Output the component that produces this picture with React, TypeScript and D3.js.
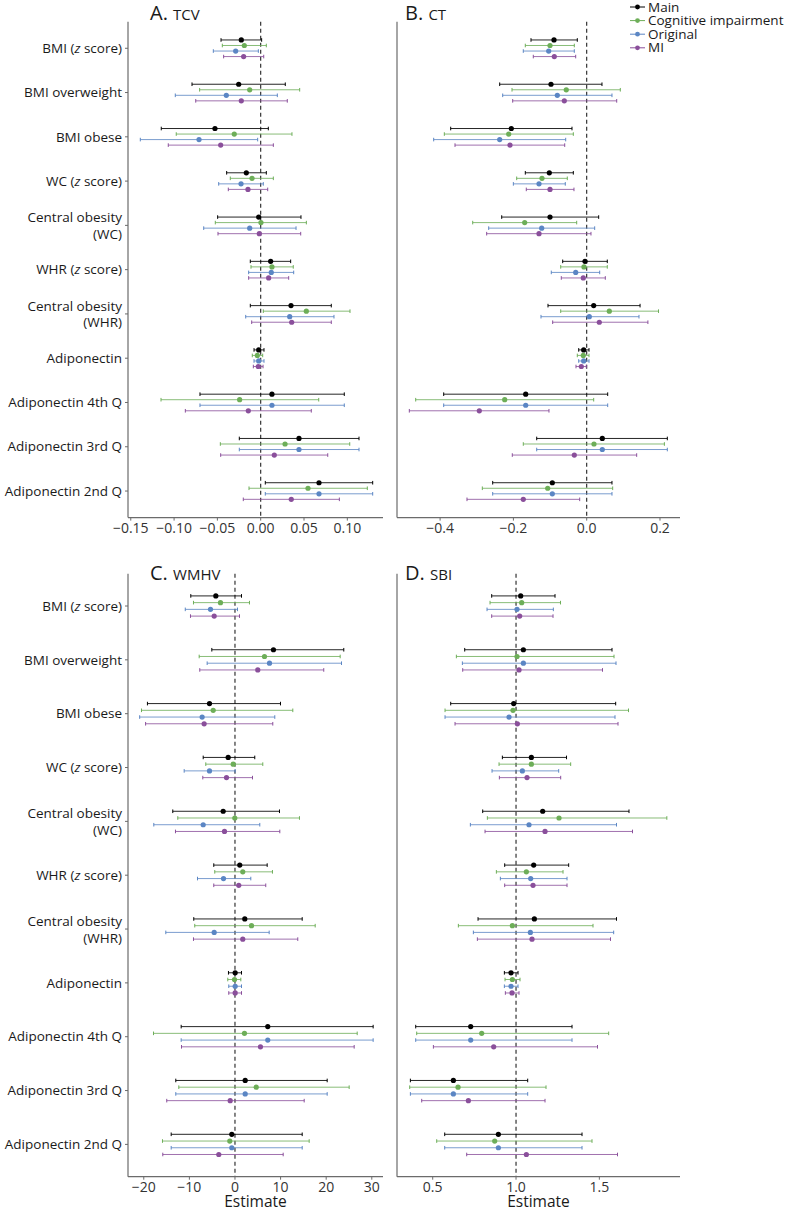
import React from "react";
import * as d3 from "d3";

const categories = [
  "BMI (z score)", "BMI overweight", "BMI obese", "WC (z score)", "Central obesity (WC)",
  "WHR (z score)", "Central obesity (WHR)", "Adiponectin", "Adiponectin 4th Q",
  "Adiponectin 3rd Q", "Adiponectin 2nd Q",
];

const seriesNames = ["Main", "Cognitive impairment", "Original", "MI"];
const seriesColors = ["#000000", "#6DAE58", "#5B86C4", "#8A4F9B"];

// [estimate, lower, upper]
const tcvMain = [[-0.0224,-0.0458,0.0011],[-0.0254,-0.0793,0.0284],[-0.0528,-0.1148,0.0088],[-0.0166,-0.0393,0.0065],[-0.0023,-0.0497,0.0465],[0.0115,-0.012,0.0346],[0.035,-0.012,0.0815],[-0.0023,-0.0077,0.0038],[0.013,-0.0701,0.0965],[0.0442,-0.0247,0.1135],[0.0673,0.0053,0.1293]];
const tcvCog = [[-0.0189,-0.0443,0.0065],[-0.0127,-0.0705,0.045],[-0.0305,-0.0975,0.0361],[-0.01,-0.0351,0.0146],[0.0003,-0.0524,0.0527],[0.013,-0.0112,0.0376],[0.0527,0.003,0.1031],[-0.0039,-0.0097,0.0023],[-0.0243,-0.1151,0.067],[0.0281,-0.0466,0.1028],[0.0546,-0.0135,0.1231]];
const tcvOrig = [[-0.0289,-0.0547,-0.0027],[-0.0397,-0.0986,0.0192],[-0.0712,-0.139,-0.0035],[-0.0227,-0.0485,0.003],[-0.0127,-0.0658,0.0408],[0.0122,-0.0139,0.0381],[0.0335,-0.0173,0.0846],[-0.0023,-0.0077,0.0038],[0.013,-0.0701,0.0965],[0.0442,-0.0247,0.1135],[0.0673,0.0053,0.1293]];
const tcvMI = [[-0.0197,-0.0428,0.0035],[-0.0224,-0.075,0.0307],[-0.0462,-0.1067,0.0146],[-0.0147,-0.0374,0.0081],[-0.0016,-0.0493,0.0462],[0.0092,-0.0139,0.0323],[0.0358,-0.0104,0.0815],[-0.0028,-0.0085,0.0027],[-0.0143,-0.087,0.0584],[0.0157,-0.0462,0.0774],[0.0353,-0.0201,0.0908]];

const ctMain = [[-0.0892,-0.152,-0.0256],[-0.0974,-0.2374,0.0417],[-0.2057,-0.3711,-0.0401],[-0.102,-0.1675,-0.0365],[-0.1001,-0.2319,0.0327],[-0.0046,-0.0655,0.0562],[0.0191,-0.1056,0.1456],[-0.0082,-0.0218,0.0063],[-0.1664,-0.3902,0.0573],[0.0426,-0.1364,0.22],[-0.0938,-0.2565,0.069]];
const ctCog = [[-0.1001,-0.1675,-0.0338],[-0.0557,-0.2038,0.0917],[-0.2128,-0.3885,-0.0365],[-0.122,-0.191,-0.0529],[-0.1692,-0.311,-0.0273],[-0.0074,-0.0709,0.0562],[0.0617,-0.0709,0.196],[-0.0093,-0.0256,0.0063],[-0.2237,-0.4666,0.0191],[0.0199,-0.173,0.212],[-0.1064,-0.2848,0.0709]];
const ctOrig = [[-0.1037,-0.173,-0.0338],[-0.0802,-0.2292,0.069],[-0.2374,-0.4175,-0.0573],[-0.1301,-0.2001,-0.0584],[-0.1228,-0.2674,0.0218],[-0.03,-0.0966,0.0355],[0.0071,-0.1247,0.1427],[-0.0082,-0.0218,0.0063],[-0.1664,-0.3902,0.0573],[0.0426,-0.1364,0.22],[-0.0938,-0.2565,0.069]];
const ctMI = [[-0.0884,-0.1457,-0.03],[-0.0611,-0.2019,0.0819],[-0.2093,-0.3593,-0.06],[-0.1001,-0.1648,-0.0347],[-0.1301,-0.2729,0.0117],[-0.0093,-0.0693,0.0508],[0.0344,-0.0928,0.167],[-0.0147,-0.0292,-0.0011],[-0.293,-0.484,-0.1029],[-0.0338,-0.203,0.1364],[-0.173,-0.3266,-0.0191]];

const wmhvMain = [[-4.2,-9.69,1.43],[8.44,-5.08,23.86],[-5.59,-19.2,9.98],[-1.49,-6.97,4.34],[-2.59,-13.64,9.76],[1.05,-4.65,7.06],[2.15,-9.04,14.74],[0.04,-1.43,1.43],[7.19,-11.8,30.3],[2.24,-12.98,20.22],[-0.7,-13.99,14.74]];
const wmhvCog = [[-3.18,-9.1,3.18],[6.47,-7.85,23.07],[-4.78,-20.5,12.68],[-0.39,-6.4,6.1],[-0.04,-12.54,14.14],[1.71,-4.43,8.22],[3.62,-8.82,17.59],[-0.1,-1.58,1.28],[2.08,-17.87,26.8],[4.65,-12.32,25.04],[-1.14,-15.9,16.27]];
const wmhvOrig = [[-5.37,-10.9,0.55],[7.57,-6.1,23.36],[-7.2,-20.9,8.73],[-5.59,-11.14,0.04],[-6.97,-17.8,5.44],[-2.52,-8.22,3.47],[-4.56,-15.17,7.5],[0.04,-1.36,1.43],[7.19,-11.8,30.3],[2.24,-12.98,20.22],[-0.7,-13.99,14.74]];
const wmhvMI = [[-4.56,-9.76,0.99],[5.0,-7.72,19.47],[-6.76,-19.6,8.29],[-1.86,-7.06,3.84],[-2.3,-13.05,9.83],[0.83,-4.65,6.75],[1.71,-9.1,13.77],[0.04,-1.36,1.43],[5.59,-11.73,26.14],[-1.05,-14.96,15.18],[-3.55,-15.83,10.57]];

const sbiMain = [[1.028,0.854,1.234],[1.044,0.692,1.576],[0.986,0.608,1.598],[1.092,0.918,1.303],[1.16,0.8,1.678],[1.106,0.932,1.316],[1.11,0.772,1.603],[0.97,0.93,1.012],[0.728,0.398,1.336],[0.624,0.366,1.07],[0.894,0.572,1.396]];
const sbiCog = [[1.034,0.844,1.267],[1.006,0.642,1.588],[0.982,0.574,1.675],[1.092,0.898,1.328],[1.258,0.828,1.905],[1.062,0.882,1.282],[0.978,0.654,1.462],[0.978,0.934,1.024],[0.794,0.404,1.556],[0.652,0.362,1.18],[0.872,0.524,1.456]];
const sbiOrig = [[1.006,0.826,1.224],[1.044,0.678,1.6],[0.958,0.574,1.594],[1.038,0.856,1.256],[1.078,0.726,1.603],[1.088,0.906,1.306],[1.086,0.744,1.586],[0.97,0.93,1.012],[0.728,0.398,1.336],[0.624,0.366,1.07],[0.894,0.572,1.396]];
const sbiMI = [[1.022,0.854,1.222],[1.018,0.68,1.519],[1.008,0.634,1.612],[1.066,0.9,1.268],[1.174,0.814,1.699],[1.102,0.932,1.306],[1.096,0.768,1.567],[0.976,0.936,1.018],[0.866,0.504,1.489],[0.714,0.434,1.174],[1.062,0.704,1.609]];

const tcvTicks = [-0.15, -0.1, -0.05, 0, 0.05, 0.1];
const ctTicks = [-0.4, -0.2, 0, 0.2];
const wmhvTicks = [-20, -10, 0, 10, 20, 30];
const sbiTicks = [0.5, 1, 1.5];

const FONT = "'Open Sans', 'Noto Sans', sans-serif";

type PanelProps = {
  letter: string; name: string; series: number[][][]; domain: [number, number];
  xRange: [number, number]; yRange: [number, number]; ticks: number[]; fmt: string;
  ref0: number; showLabels: boolean; showXTitle: boolean; titleX: number; titleY: number;
};

function YLabel({ text, x, y }: { text: string; x: number; y: number }) {
  const renderLine = (s: string) => {
    if (s.includes("(z score)")) {
      const pre = s.replace("(z score)", "");
      return (<>{pre}(<tspan fontStyle="italic">z</tspan> score)</>);
    }
    return s;
  };
  if (text.startsWith("Central obesity")) {
    const second = text.replace("Central obesity ", "");
    return (
      <text x={x} textAnchor="end" fontSize={13.5} fill="#1a1a1a" fontFamily={FONT}>
        <tspan x={x} y={y - 3}>Central obesity</tspan>
        <tspan x={x} y={y + 13.5}>{second}</tspan>
      </text>
    );
  }
  return (
    <text x={x} y={y + 4.7} textAnchor="end" fontSize={13.5} fill="#1a1a1a" fontFamily={FONT}>
      {renderLine(text)}
    </text>
  );
}

function Panel(p: PanelProps) {
  const x = d3.scaleLinear().domain(p.domain).range(p.xRange);
  const y = d3.scalePoint<string>().domain(categories).range(p.yRange).padding(0.6);
  const step = y.step();
  const offsets = [-0.1875, -0.0625, 0.0625, 0.1875].map((o) => o * step);
  const f = d3.format(p.fmt);
  const [x0, x1] = p.xRange;
  const [yTop, yBot] = p.yRange;
  const axisColor = "#6b6b6b";
  return (
    <g>
      <text x={p.titleX} y={p.titleY} fontFamily={FONT} fill="#1a1a1a">
        <tspan fontSize={20}>{p.letter}. </tspan>
        <tspan fontSize={15}>{p.name}</tspan>
      </text>
      <line x1={x(p.ref0)} x2={x(p.ref0)} y1={yTop} y2={yBot} stroke="#222" strokeWidth={1.1} strokeDasharray="4,3" />
      {p.series.map((s, si) => (
        <g key={si}>
          {s.map((d, ci) => {
            const cy = (y(categories[ci]) as number) + offsets[si];
            const c = seriesColors[si];
            return (
              <g key={ci}>
                <line x1={x(d[1])} x2={x(d[2])} y1={cy} y2={cy} stroke={c} strokeWidth={1} opacity={si === 0 ? 0.85 : 0.8} />
                <line x1={x(d[1])} x2={x(d[1])} y1={cy - 1.8} y2={cy + 1.8} stroke={c} strokeWidth={1} />
                <line x1={x(d[2])} x2={x(d[2])} y1={cy - 1.8} y2={cy + 1.8} stroke={c} strokeWidth={1} />
                <circle cx={x(d[0])} cy={cy} r={2.6} fill={c} />
              </g>
            );
          })}
        </g>
      ))}
      <line x1={x0} x2={x0} y1={yTop} y2={yBot} stroke={axisColor} strokeWidth={1.2} />
      <line x1={x0} x2={x1} y1={yBot} y2={yBot} stroke={axisColor} strokeWidth={1.2} />
      {p.ticks.map((t) => (
        <g key={t}>
          <line x1={x(t)} x2={x(t)} y1={yBot} y2={yBot + 3} stroke={axisColor} strokeWidth={1} />
          <text x={x(t)} y={yBot + 15} textAnchor="middle" fontSize={14} fill="#333" fontFamily={FONT}>{f(t)}</text>
        </g>
      ))}
      {p.showLabels && categories.map((c) => (
        <g key={c}>
          <line x1={x0 - 3} x2={x0} y1={y(c) as number} y2={y(c) as number} stroke={axisColor} strokeWidth={1} />
          <YLabel text={c} x={x0 - 6} y={y(c) as number} />
        </g>
      ))}
      {p.showXTitle && (
        <text x={(x0 + x1) / 2} y={yBot + 30.5} textAnchor="middle" fontSize={15.5} fill="#1a1a1a" fontFamily={FONT}>Estimate</text>
      )}
    </g>
  );
}

function Legend() {
  const lx = 630, ly = 7, dy = 13.6;
  return (
    <g>
      {seriesNames.map((n, i) => (
        <g key={n}>
          <line x1={lx} x2={lx + 15} y1={ly + i * dy} y2={ly + i * dy} stroke={seriesColors[i]} strokeWidth={1} />
          <circle cx={lx + 7.5} cy={ly + i * dy} r={2.4} fill={seriesColors[i]} />
          <text x={lx + 18} y={ly + i * dy + 4.6} fontSize={13.5} fill="#1a1a1a" fontFamily={FONT}>{n}</text>
        </g>
      ))}
    </g>
  );
}

export default function App() {
  const topY: [number, number] = [21.7, 517.6];
  const botY: [number, number] = [573.7, 1176.7];
  return (
    <svg width={788} height={1210} style={{ position: "absolute", left: 0, top: 0, background: "#fff" }}>
      <rect width={788} height={1210} fill="#fff" />
      <Panel letter="A" name="TCV" series={[tcvMain, tcvCog, tcvOrig, tcvMI]} domain={[-0.1532, 0.1412]}
        xRange={[128, 383]} yRange={topY} ticks={tcvTicks} fmt=".2f" ref0={0} showLabels showXTitle={false}
        titleX={150} titleY={20} />
      <Panel letter="B" name="CT" series={[ctMain, ctCog, ctOrig, ctMI]} domain={[-0.5176, 0.2546]}
        xRange={[397, 680]} yRange={topY} ticks={ctTicks} fmt=".1f" ref0={0} showLabels={false} showXTitle={false}
        titleX={405} titleY={20} />
      <Panel letter="C" name="WMHV" series={[wmhvMain, wmhvCog, wmhvOrig, wmhvMI]} domain={[-23.46, 32.46]}
        xRange={[128, 383]} yRange={botY} ticks={wmhvTicks} fmt="d" ref0={0} showLabels showXTitle
        titleX={150} titleY={580} />
      <Panel letter="D" name="SBI" series={[sbiMain, sbiCog, sbiOrig, sbiMI]} domain={[0.2857, 1.984]}
        xRange={[397, 680]} yRange={botY} ticks={sbiTicks} fmt=".1f" ref0={1} showLabels={false} showXTitle
        titleX={405} titleY={580} />
      <Legend />
    </svg>
  );
}
